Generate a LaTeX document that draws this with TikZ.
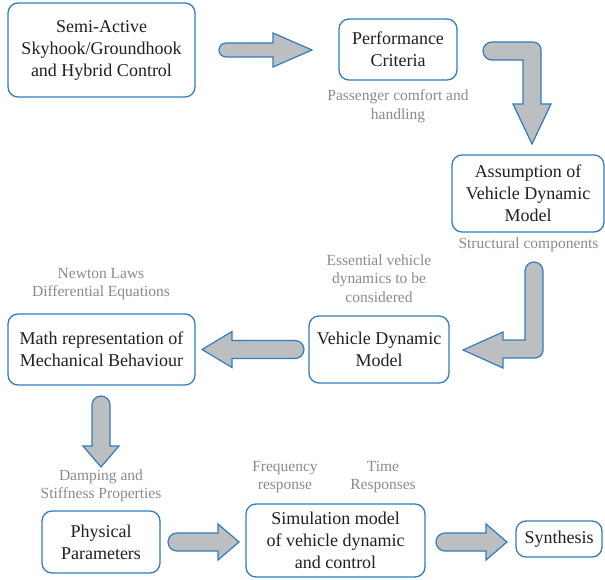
\documentclass[tikz,border=0pt]{standalone}
\usepackage{fontspec}
\setmainfont{Liberation Serif}
\usetikzlibrary{positioning, shapes, arrows.meta}
\definecolor{boxblue}{HTML}{2F7DC0}
\definecolor{arrowgray}{HTML}{BDBEC0}
\definecolor{notegray}{HTML}{8A8A8A}
\definecolor{textdark}{HTML}{231F20}
\tikzset{>=latex}
\tikzset{
  blockbox/.style={draw=boxblue, line width=1.3pt, rounded corners=10pt, fill=white,
    align=center, text=textdark, inner sep=0pt, font=\rmfamily\fontsize{18}{22}\selectfont},
  notetext/.style={align=center, text=notegray, inner sep=0pt, font=\rmfamily\fontsize{15.5}{18.5}\selectfont},
  arrowbody/.style={draw=boxblue, fill=arrowgray, line width=1.2pt, line join=miter},
  pics/fatarrow/.style args={#1/#2/#3/#4}{code={
    \draw[arrowbody] (0,-#3) -- ({#1-#2},-#3) -- ({#1-#2},-#4) -- (#1,0)
      -- ({#1-#2},#4) -- ({#1-#2},#3) -- (0,#3) arc (90:270:#3) -- cycle;
  }}
}

\begin{document}
\begin{tikzpicture}[x=1pt, y=-1pt]
    \useasboundingbox (0,0) rectangle (605,580);

    \node[blockbox, minimum width=187, minimum height=94] (semi) at (101.5,50) {Semi-Active\\ Skyhook/Groundhook\\ and Hybrid Control};
    \node[blockbox, minimum width=118, minimum height=61] (perf) at (398,49.5) {Performance\\ Criteria};
    \node[blockbox, minimum width=152, minimum height=77] (assum) at (528,193.5) {Assumption of\\ Vehicle Dynamic\\ Model};
    \node[blockbox, minimum width=140, minimum height=67] (vdm) at (379,349.5) {Vehicle Dynamic\\ Model};
    \node[blockbox, minimum width=187, minimum height=71] (math) at (101.5,349.5) {Math representation of\\ Mechanical Behaviour};
    \node[blockbox, minimum width=118, minimum height=62] (phys) at (101,542) {Physical\\ Parameters};
    \node[blockbox, minimum width=179, minimum height=73] (sim) at (335.5,540.5) {Simulation model\\ of vehicle dynamic\\ and control};
    \node[blockbox, minimum width=86, minimum height=36] (synth) at (559,539) {Synthesis};

    \node[notetext] (passenger) at (398,106) {Passenger comfort and\\ handling};
    \node[notetext] (structural) at (528.5,245) {Structural components};
    \node[notetext] (essential) at (379,278.5) {Essential vehicle\\ dynamics to be\\ considered};
    \node[notetext] (newton) at (101,284) {Newton Laws\\ Differential Equations};
    \node[notetext] (damping) at (101,486) {Damping and\\ Stiffness Properties};
    \node[notetext] (freq) at (285,477) {Frequency\\ response};
    \node[notetext] (time) at (383,477) {Time\\ Responses};

    \pic at (226,50) {fatarrow={86/39/7/17}};
    \pic[rotate=180] at (295,349.5) {fatarrow={93/30/9/18}};
    \pic[rotate=-90] at (101,405) {fatarrow={62/21/9/18}};
    \pic at (177,542) {fatarrow={62/21/9/18}};
    \pic at (445,542) {fatarrow={62/21/9/18}};

    \draw[arrowbody] (492,42) -- (533,42) arc (270:360:8) -- (541,104) -- (551,104)
        -- (532,144) -- (513,104) -- (523,104) -- (523,60) -- (492,60) arc (90:270:9) -- cycle;
    \draw[arrowbody] (543,271) -- (543,350) arc (0:90:8) -- (503,358) -- (503,368)
        -- (463,350) -- (503,332) -- (503,340) -- (525,340) -- (525,271) arc (180:360:9) -- cycle;
\end{tikzpicture}
\end{document}
